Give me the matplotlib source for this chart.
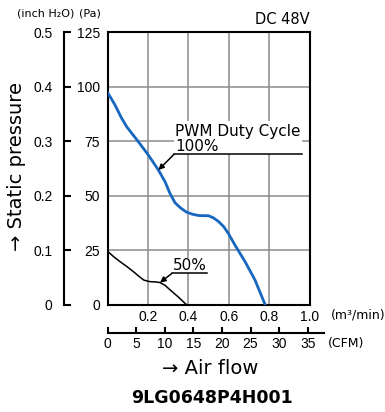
import matplotlib
matplotlib.use('Agg')
import matplotlib.pyplot as plt
from matplotlib.patches import Rectangle

# air flow (m3/min) and static pressure (Pa)
flow_100 = [0.0, 0.037, 0.07, 0.095, 0.12, 0.153, 0.202, 0.252, 0.285, 0.309, 0.334, 0.36,
            0.39, 0.42, 0.45, 0.475, 0.50, 0.525, 0.55, 0.575, 0.598, 0.631, 0.681, 0.73, 0.78]
pa_100 = [97.5, 91.7, 85.6, 81.7, 78.7, 74.8, 68.7, 61.8, 56.4, 51.1, 46.8, 44.5,
          42.5, 41.5, 40.9, 40.8, 40.8, 39.8, 38.1, 35.8, 32.7, 27.3, 19.7, 11.3, 0]

flow_50 = [0.0, 0.03, 0.062, 0.095, 0.128, 0.155, 0.18, 0.21, 0.235, 0.26, 0.285, 0.31, 0.35, 0.39]
pa_50 = [24.5, 22.0, 19.7, 17.5, 15.1, 13.0, 11.2, 10.5, 10.4, 10.1, 8.8, 6.7, 3.5, 0]

pa_ticks = [0, 25, 50, 75, 100, 125]
inch_ticks = [0, 0.1, 0.2, 0.3, 0.4, 0.5]
m3_ticks = [0.2, 0.4, 0.6, 0.8, 1.0]
cfm_ticks = [0, 5, 10, 15, 20, 25, 30, 35]

W, H = 385, 412
num_font = 'Liberation Sans'

fig = plt.figure(figsize=(W / 100, H / 100), dpi=100)
ax = fig.add_axes([107.5 / W, (H - 304.5) / H, 202 / W, 272 / H])
ax.set_xlim(0, 1.0)
ax.set_ylim(0, 125)

ax.set_xticks(m3_ticks)
ax.set_xticklabels(['0.2', '0.4', '0.6', '0.8', '1.0'])
ax.set_yticks(pa_ticks)
ax.set_yticklabels([str(t) for t in pa_ticks])
ax.tick_params(length=0, labelsize=10)
ax.tick_params(axis='x', pad=4)
ax.tick_params(axis='y', pad=5.5)
for lab in ax.get_xticklabels() + ax.get_yticklabels():
    lab.set_family(num_font)
ax.grid(True, color='#8c8c8c', lw=1.1)
ax.set_axisbelow(True)
for s in ax.spines.values():
    s.set_linewidth(1.5)

# curves
ax.plot(flow_100, pa_100, color='#1766bf', lw=2.0, zorder=4)
ax.plot(flow_50, pa_50, color='black', lw=1.1, zorder=4)

# label boxes hiding the grid
ax.add_patch(Rectangle((0.329, 69.0), 0.636, 15.5, facecolor='white', edgecolor='none', zorder=2))
ax.add_patch(Rectangle((0.319, 14.3), 0.172, 7.0, facecolor='white', edgecolor='none', zorder=2))

ax.text(0.334, 77.4, 'PWM Duty Cycle', fontsize=11, va='baseline', zorder=5)
ax.text(0.334, 70.6, '100%', fontsize=11, va='baseline', zorder=5)
ax.plot([0.329, 0.965], [69.0, 69.0], color='black', lw=1.1, zorder=5)
ax.annotate('', xy=(flow_100[7], pa_100[7]), xytext=(0.329, 69.0),
            arrowprops=dict(arrowstyle='-|>', color='black', lw=1.1, mutation_scale=8,
                            shrinkA=0, shrinkB=0), zorder=5)

ax.text(0.324, 15.9, '50%', fontsize=11, va='baseline', zorder=5)
ax.plot([0.319, 0.491], [14.3, 14.3], color='black', lw=1.1, zorder=5)
ax.annotate('', xy=(flow_50[9], pa_50[9]), xytext=(0.319, 14.3),
            arrowprops=dict(arrowstyle='-|>', color='black', lw=1.1, mutation_scale=8,
                            shrinkA=0, shrinkB=0), zorder=5)

# inch H2O axis on the far left
sec_y = ax.secondary_yaxis('left', functions=(lambda p: p / 250, lambda i: i * 250))
sec_y.spines['left'].set_position(('outward', 31))
sec_y.spines['left'].set_linewidth(1.5)
sec_y.set_yticks(inch_ticks)
sec_y.set_yticklabels(['0', '0.1', '0.2', '0.3', '0.4', '0.5'])
sec_y.tick_params(direction='in', length=5, width=1.5, labelsize=10, pad=8.5)
for lab in sec_y.get_yticklabels():
    lab.set_family(num_font)

# CFM axis below
sec_x = ax.secondary_xaxis('bottom', functions=(lambda m: m * 35.31, lambda c: c / 35.31))
sec_x.spines['bottom'].set_position(('outward', 20.5))
sec_x.spines['bottom'].set_linewidth(1.5)
sec_x.spines['bottom'].set_bounds(0, 37.8)
sec_x.set_xticks(cfm_ticks)
sec_x.set_xticklabels([str(t) for t in cfm_ticks])
sec_x.tick_params(direction='in', length=4.5, width=1.5, labelsize=10, pad=3)
for lab in sec_x.get_xticklabels():
    lab.set_family(num_font)

# text around the chart
fig.text(309.5 / W, 1 - 20 / H, 'DC 48V', fontsize=10.5, ha='right', va='center')
fig.text(17 / W, 1 - 13 / H, '(inch H\u2082O)', fontsize=8, ha='left', va='center')
fig.text(79 / W, 1 - 13 / H, '(Pa)', fontsize=8, ha='left', va='center')
fig.text(331 / W, 1 - 315 / H, '(m\u00b3/min)', fontsize=9, ha='left', va='center')
fig.text(328 / W, 1 - 343 / H, '(CFM)', fontsize=9, ha='left', va='center')
fig.text(210 / W, 1 - 368 / H, '\u2192 Air flow', fontsize=14, ha='center', va='center')
fig.text(17 / W, 1 - 167 / H, '\u2192 Static pressure', fontsize=14, rotation=90,
         ha='center', va='center')
fig.text(211.5 / W, 1 - 398 / H, '9LG0648P4H001', fontsize=12.5, fontweight='bold',
         ha='center', va='center')

fig.savefig('out.png', dpi=100)
